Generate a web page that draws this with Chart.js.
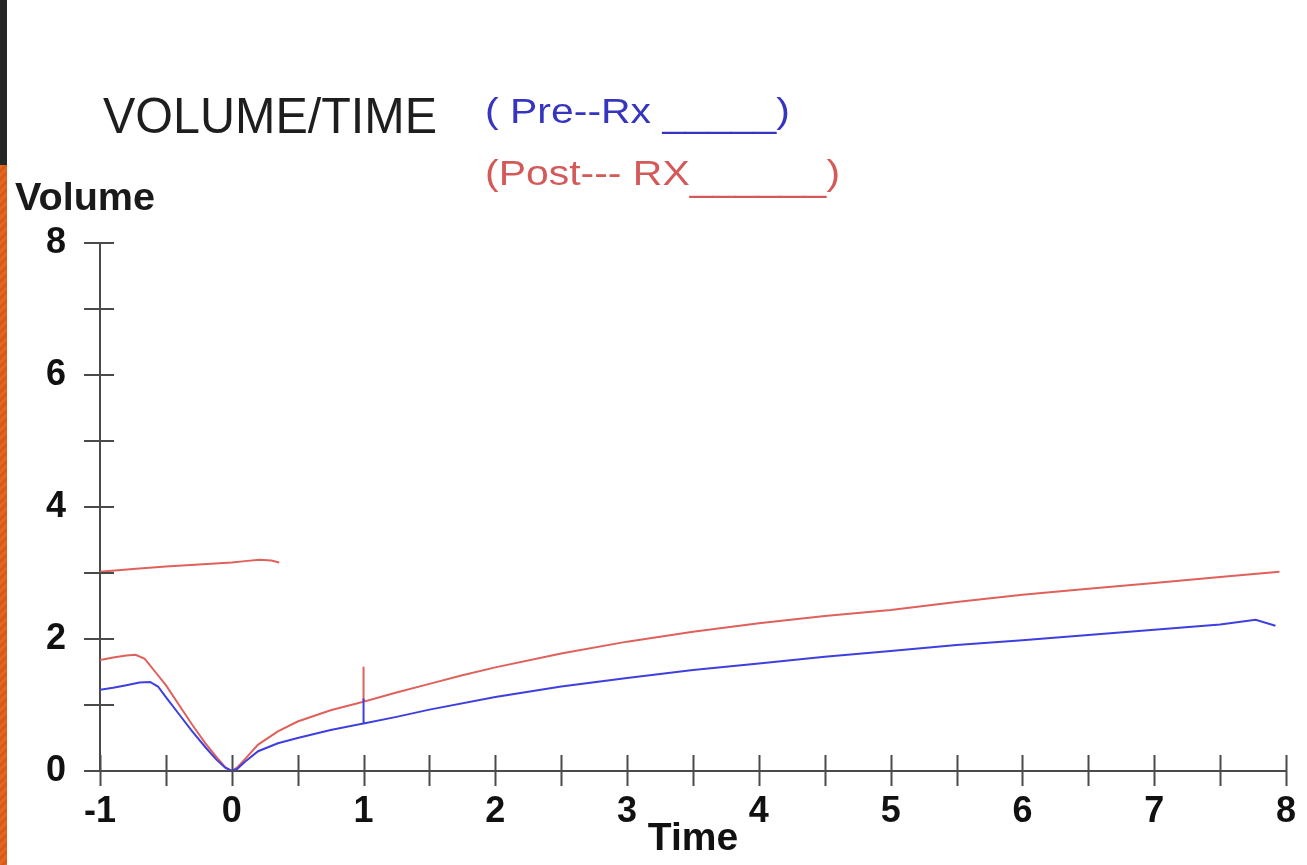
<!DOCTYPE html>
<html>
<head>
<meta charset="utf-8">
<script src="https://cdn.jsdelivr.net/npm/chart.js@4"></script>
<style>
  html, body { margin: 0; padding: 0; background: #fff; }
  #wrap { position: relative; width: 1307px; height: 865px; overflow: hidden; }
  #stripTop { position: absolute; left: 0; top: 0; width: 7px; height: 165px; background: #262626; z-index: 2; }
  #stripBottom { position: absolute; left: 0; top: 165px; width: 7px; height: 700px; z-index: 2;
    background: repeating-linear-gradient(135deg, #e2661f 0 3px, #d85a16 3px 6px); }
  canvas { position: absolute; left: 0; top: 0; }
</style>
</head>
<body>
<div id="wrap">
  <div id="stripTop"></div>
  <div id="stripBottom"></div>
  <canvas id="chart" width="1307" height="865"></canvas>
</div>
<script>
// Pre-Rx (blue) volume/time trace
const preX = [-1, -0.9, -0.8, -0.7, -0.62, -0.56, -0.5, -0.4, -0.3, -0.2, -0.12, -0.05, 0,
  0.04, 0.1, 0.2, 0.35, 0.5, 0.75, 1, 1, 1, 1.25, 1.5, 2, 2.5, 3, 3.5, 4, 4.5, 5, 5.5, 6, 6.5, 7, 7.5, 7.77, 7.92];
const preY = [1.23, 1.26, 1.3, 1.34, 1.35, 1.28, 1.12, 0.86, 0.6, 0.36, 0.18, 0.05, 0,
  0.03, 0.14, 0.3, 0.42, 0.5, 0.62, 0.72, 1.1, 0.72, 0.82, 0.93, 1.12, 1.28, 1.41, 1.53, 1.63, 1.73, 1.82, 1.91, 1.98, 2.06, 2.14, 2.22, 2.29, 2.2];

// Post-Rx (red) volume/time trace
const postX = [-1, -0.9, -0.8, -0.73, -0.66, -0.58, -0.5, -0.4, -0.3, -0.2, -0.12, -0.05, 0,
  0.04, 0.1, 0.2, 0.35, 0.5, 0.75, 1, 1, 1, 1.25, 1.5, 1.75, 2, 2.5, 3, 3.5, 4, 4.5, 5, 5.5, 6, 6.5, 7, 7.5, 7.95];
const postY = [1.68, 1.72, 1.75, 1.76, 1.7, 1.5, 1.3, 1.0, 0.7, 0.42, 0.22, 0.06, 0,
  0.05, 0.18, 0.4, 0.6, 0.75, 0.92, 1.05, 1.58, 1.05, 1.19, 1.32, 1.45, 1.57, 1.78, 1.96, 2.11, 2.24, 2.35, 2.44, 2.56, 2.67, 2.76, 2.85, 2.94, 3.02];

// short red segment at the top left
const postTopX = [-1, -0.75, -0.5, -0.25, 0, 0.1, 0.21, 0.3, 0.36];
const postTopY = [3.02, 3.06, 3.1, 3.13, 3.16, 3.18, 3.2, 3.19, 3.16];

const xMin = -1, xMax = 8, yMin = 0, yMax = 8;
const xLabelStep = 1, xTickStep = 0.5;
const yLabelStep = 2, yTickStep = 1;

const FONT = '"Liberation Sans", Arial, sans-serif';
const AXIS_COLOR = '#4a4a4a';
const BLUE = '#3f3fe0';
const RED = '#e0605c';

function points(xs, ys) {
  return xs.map((x, i) => ({ x: x, y: ys[i] }));
}

// draw text stretched to fit between left and right
function fitText(ctx, text, left, right, baseline, font, color) {
  ctx.save();
  ctx.font = font;
  const w = ctx.measureText(text).width;
  ctx.translate(left, baseline);
  ctx.scale((right - left) / w, 1);
  ctx.fillStyle = color;
  ctx.textBaseline = 'alphabetic';
  ctx.fillText(text, 0, 0);
  ctx.restore();
}

// legend-like caption: text, underscores a bit lower, closing paren
function caption(ctx, head, blanks, left, sx, baseline, drop, font, color) {
  ctx.save();
  ctx.font = font;
  ctx.fillStyle = color;
  ctx.textBaseline = 'alphabetic';
  let x = left;
  [[head, 0], [blanks, drop], [')', 0]].forEach(([t, dy]) => {
    ctx.save();
    ctx.translate(x, baseline + dy);
    ctx.scale(sx, 1);
    ctx.fillText(t, 0, 0);
    ctx.restore();
    x += ctx.measureText(t).width * sx;
  });
  ctx.restore();
}

const decorations = {
  id: 'decorations',
  afterDraw(chart) {
    const ctx = chart.ctx;
    const xs = chart.scales.x, ys = chart.scales.y;
    const area = chart.chartArea;

    // tick marks crossing the axes
    ctx.save();
    ctx.strokeStyle = AXIS_COLOR;
    ctx.lineWidth = 2;
    ctx.beginPath();
    for (let v = xMin; v <= xMax + 1e-9; v += xTickStep) {
      const px = Math.round(xs.getPixelForValue(v)) + 0.5;
      ctx.moveTo(px, area.bottom - 16);
      ctx.lineTo(px, area.bottom + 15);
    }
    for (let v = yMin; v <= yMax + 1e-9; v += yTickStep) {
      const py = Math.round(ys.getPixelForValue(v));
      ctx.moveTo(area.left - 16, py);
      ctx.lineTo(area.left + 14, py);
    }
    ctx.stroke();
    ctx.restore();

    fitText(ctx, 'VOLUME/TIME', 103, 437, 133, '50px ' + FONT, '#1e1e1e');
    fitText(ctx, 'Volume', 15, 155, 210, 'bold 39px ' + FONT, '#1a1a1a');
    caption(ctx, '( Pre--Rx ', '_____', 485, 1.17, 123, 4, '35px ' + FONT, '#3535c0');
    caption(ctx, '(Post--- RX', '______', 485, 1.17, 185, 6, '35px ' + FONT, '#d45a5a');
  }
};

new Chart(document.getElementById('chart'), {
  type: 'scatter',
  data: {
    datasets: [
      { label: 'Pre-Rx', data: points(preX, preY), borderColor: BLUE },
      { label: 'Post-Rx', data: points(postX, postY), borderColor: RED },
      { label: 'Post-Rx (start)', data: points(postTopX, postTopY), borderColor: RED }
    ].map(d => Object.assign(d, { showLine: true, pointRadius: 0, borderWidth: 2, tension: 0 }))
  },
  options: {
    responsive: false,
    animation: false,
    devicePixelRatio: 1,
    layout: { padding: { left: 0, top: 243, right: 9, bottom: 0 } },
    plugins: { legend: { display: false }, tooltip: { enabled: false } },
    scales: {
      x: {
        type: 'linear', min: xMin, max: xMax,
        grid: { display: false },
        border: { display: true, color: AXIS_COLOR, width: 2 },
        ticks: {
          stepSize: xLabelStep, padding: 11, maxRotation: 0, autoSkip: false,
          color: '#111', font: { family: FONT, size: 36, weight: 'bold' }
        },
        title: {
          display: true, text: 'Time', color: '#111',
          font: { family: FONT, size: 39, weight: 'bold' },
          padding: { top: 0, bottom: 2 }
        },
        afterFit(scale) { scale.height = 94; }
      },
      y: {
        type: 'linear', min: yMin, max: yMax,
        grid: { display: false },
        border: { display: true, color: AXIS_COLOR, width: 2 },
        ticks: {
          stepSize: yLabelStep, padding: 26,
          color: '#111', font: { family: FONT, size: 36, weight: 'bold' }
        },
        afterFit(scale) { scale.width = 100; }
      }
    }
  },
  plugins: [decorations]
});
</script>
</body>
</html>
